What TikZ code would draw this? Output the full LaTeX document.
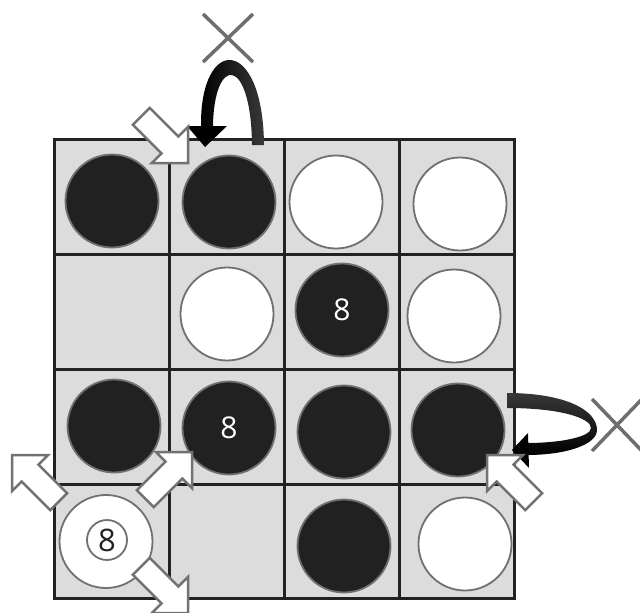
\documentclass[tikz,border=0pt]{standalone}
\usepackage{fontspec}
\newfontfamily\digitfont{Open Sans}
\definecolor{gridc}{HTML}{222222}
\definecolor{cellc}{HTML}{DCDCDC}
\definecolor{stonec}{HTML}{707070}
\definecolor{blackc}{HTML}{212121}
\definecolor{xc}{HTML}{6E6E6E}
\definecolor{arrowc}{HTML}{727272}
\definecolor{curvec}{HTML}{383838}
\begin{document}
\begin{tikzpicture}[x=1pt,y=-1pt,
  gridline/.style={draw=gridc, line width=3pt},
  stone/.style={circle, minimum size=93pt, inner sep=0pt, draw=stonec, line width=1.8pt,
    font=\digitfont\fontsize{30}{30}\selectfont},
  blackstone/.style={stone, fill=blackc, text=white},
  whitestone/.style={stone, fill=white},
  ring/.style={circle, minimum size=40pt, inner sep=0pt, draw=stonec, line width=1.8pt,
    fill=white, text=blackc, font=\digitfont\fontsize{31}{31}\selectfont},
  xmark/.style={draw=xc, line width=3.5pt},
  fatarrow/.pic={\draw[arrowc, line width=2.5pt, fill=white, line join=miter]
    (0,0) -- (-25.5,25.5) -- (-25.5,12) -- (-66,12) -- (-66,-12) -- (-25.5,-12) -- (-25.5,-25.5) -- cycle;}
]
\useasboundingbox (0,0) rectangle (640,613);
% board
\fill[cellc] (54.5,139.5) rectangle (514.5,598.5);
\foreach \i in {1,2,3} {
  \draw[gridline] (54.5+115*\i,139.5) -- (54.5+115*\i,598.5);
  \draw[gridline] (54.5,139.5+115*\i) -- (514.5,139.5+115*\i);
}
\draw[gridline] (54.5,139.5) rectangle (514.5,598.5);
% stones
\node[blackstone] (s00) at (112,201) {};
\node[blackstone] (s01) at (229,202) {};
\node[whitestone] (s02) at (336,202) {};
\node[whitestone] (s03) at (460,204) {};
\node[whitestone] (s11) at (227,314) {};
\node[blackstone] (s12) at (342,310) {8};
\node[whitestone] (s13) at (454,316) {};
\node[blackstone] (s20) at (114,426) {};
\node[blackstone] (s21) at (229,428) {8};
\node[blackstone] (s22) at (344,432) {};
\node[blackstone] (s23) at (458,430) {};
\node[whitestone] (s30) at (106,541.5) {};
\node[ring] (r30) at (107,540) {8};
\node[blackstone] (s32) at (344,546) {};
\node[whitestone] (s33) at (465,544) {};
% curved arrows
\shade[left color=black, right color=curvec]
  (264,145) .. controls (263,35) and (200,35) .. (201,126) -- (213,126)
  .. controls (214,55) and (251,55) .. (252,145) -- cycle;
\fill[black] (187,126) -- (227,126) -- (205,147) -- cycle;
\shade[top color=curvec, bottom color=black]
  (507,393) .. controls (565,393) and (597,410) .. (597,430)
  .. controls (597,445) and (565,455) .. (527,455) -- (527,443)
  .. controls (560,443) and (591,437) .. (591,428)
  .. controls (591,418) and (560,408) .. (507,408) -- cycle;
\fill[black] (528,433) -- (512,450) -- (529,468) -- cycle;
% white arrows
\pic[rotate=-45] (a1) at (188,163) {fatarrow};
\pic[rotate=135] (a2) at (487,455) {fatarrow};
\pic[rotate=135] (a3) at (12,455) {fatarrow};
\pic[rotate=45] (a4) at (192,452) {fatarrow};
\pic[rotate=-45] (a5) at (188,613) {fatarrow};
% crosses
\draw[xmark] (203,14) -- (253,62) (253,14) -- (203,62);
\draw[xmark] (592,399) -- (642,451) (642,399) -- (592,451);
\end{tikzpicture}
\end{document}
